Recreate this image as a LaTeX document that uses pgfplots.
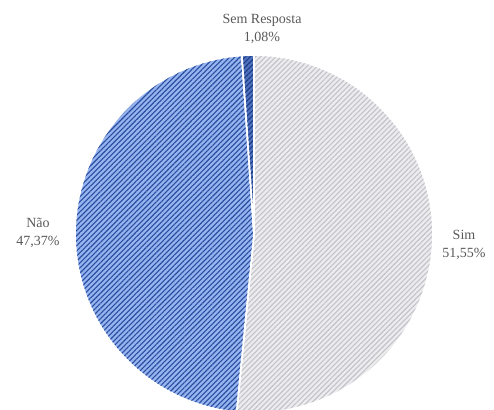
\documentclass[border=0pt]{standalone}
\usepackage{pgfplots}
\pgfplotsset{compat=1.18}
\usepackage{fontspec}
\setmainfont{Liberation Serif}
\usetikzlibrary{patterns.meta}
\definecolor{txt}{HTML}{595959}
\definecolor{simbase}{HTML}{ECECEF}
\definecolor{simline}{HTML}{C2C2C9}
\definecolor{naobase}{HTML}{96B4F0}
\definecolor{naoline}{HTML}{284C9E}
\definecolor{sembase}{HTML}{4F72C0}
\definecolor{semline}{HTML}{1C3A80}
% data (percent)
\def\vSim{51.55}
\def\vNao{47.37}
\def\vSem{1.08}
\pgfmathsetmacro{\aA}{90}
\pgfmathsetmacro{\aB}{90-3.6*\vSim}
\pgfmathsetmacro{\aC}{\aB-3.6*\vNao}
\pgfmathsetmacro{\aD}{\aC-3.6*\vSem}
\begin{document}
\begin{tikzpicture}
\begin{axis}[
  scale only axis, width=494pt, height=409pt,
  xmin=0, xmax=494, ymin=0, ymax=409,
  hide axis, clip=true,
  every axis plot/.append style={draw=white, line width=1.6pt, line join=round},
]
\addplot[fill=simbase, postaction={pattern={Lines[angle=45,distance=3.6pt,line width=1.1pt]}, pattern color=simline},
  domain=\aB:\aA, samples=120, variable=\t]
  ({254+179*cos(\t)},{175+179*sin(\t)}) -- (axis cs:254,175) -- cycle;
\addplot[fill=naobase, postaction={pattern={Lines[angle=45,distance=3.6pt,line width=1.1pt]}, pattern color=naoline},
  domain=\aC:\aB, samples=120, variable=\t]
  ({254+179*cos(\t)},{175+179*sin(\t)}) -- (axis cs:254,175) -- cycle;
\addplot[fill=sembase, postaction={pattern={Lines[angle=45,distance=3.6pt,line width=1.1pt]}, pattern color=semline},
  domain=\aD:\aC, samples=6, variable=\t]
  ({254+179*cos(\t)},{175+179*sin(\t)}) -- (axis cs:254,175) -- cycle;
\node[text=txt, align=center, font=\fontsize{14}{18}\selectfont] at (axis cs:262,380) {Sem Resposta\\1,08\%};
\node[text=txt, align=center, font=\fontsize{14}{18}\selectfont] at (axis cs:38,176) {Não\\47,37\%};
\node[text=txt, align=center, font=\fontsize{14}{18}\selectfont] at (axis cs:464,164) {Sim\\51,55\%};
\end{axis}
\pgfresetboundingbox
\path (current axis.south west) rectangle (current axis.north east);
\end{tikzpicture}
\end{document}
